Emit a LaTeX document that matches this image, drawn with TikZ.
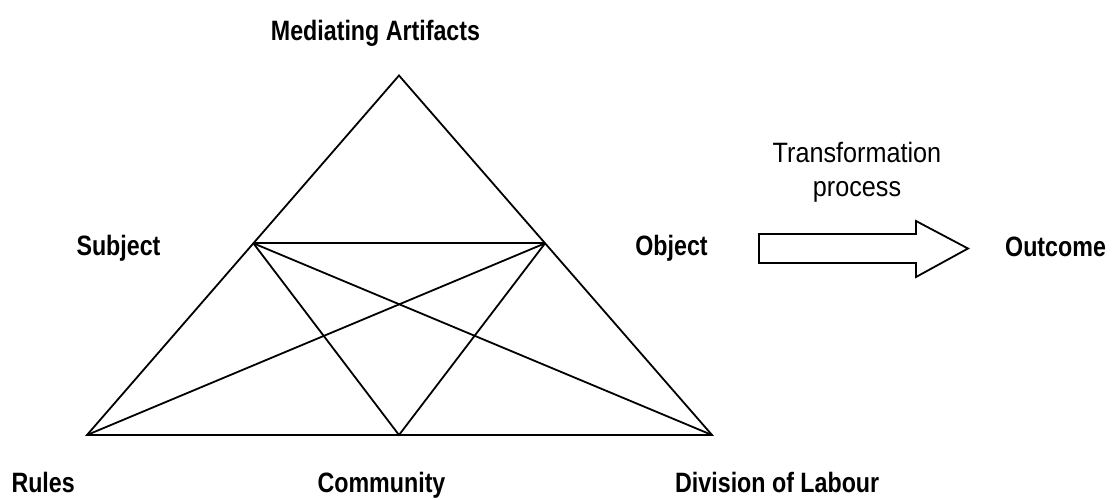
\documentclass[tikz,border=0pt]{standalone}
\usepackage{fontspec}
\usetikzlibrary{calc}
\newfontfamily\labelfont{Liberation Sans}[FakeStretch=0.83]
\newfontfamily\notefont{Liberation Sans}[FakeStretch=0.9]
\begin{document}
\begin{tikzpicture}[x=1pt,y=-1pt,
  edge/.style={line width=1.8pt,line join=miter},
  lbl/.style={inner sep=0pt,font=\labelfont\bfseries\fontsize{28}{34}\selectfont},
  note/.style={inner sep=0pt,align=center,font=\notefont\fontsize{28}{34}\selectfont}]
\useasboundingbox (0,0) rectangle (1113,499);

% corners of the activity triangle
\coordinate (A) at (399,75.5);
\coordinate (BL) at (87,435);
\coordinate (BM) at (399,435);
\coordinate (BR) at (712,435);
\coordinate (L) at ($(A)!0.4667!(BL)$);
\coordinate (R) at ($(A)!0.4667!(BR)$);

% outer triangle and inner connections
\draw[edge] (A) -- (BL) -- (BR) -- cycle;
\draw[edge] (L) -- (R);
\draw[edge] (L) -- (BM) -- (R);
\draw[edge] (L) -- (BR);
\draw[edge] (R) -- (BL);

% block arrow for the transformation
\coordinate (s1) at (759,234);
\coordinate (s2) at (916,234);
\coordinate (h1) at (916,221);
\coordinate (tip) at (968,248.5);
\coordinate (h2) at (916,277);
\coordinate (s3) at (916,263);
\coordinate (s4) at (759,263);
\draw[edge] (s1) -- (s2) -- (h1) -- (tip) -- (h2) -- (s3) -- (s4) -- cycle;

% labels
\node[lbl,anchor=base] (med) at (375.5,40) {Mediating Artifacts};
\node[lbl,anchor=base] (subj) at (118.5,255) {Subject};
\node[lbl,anchor=base] (obj) at (671.5,255) {Object};
\node[lbl,anchor=base west] (out) at (1005,256) {Outcome};
\node[lbl,anchor=base east] (rules) at (75,492) {Rules};
\node[lbl,anchor=base] (comm) at (381.5,492) {Community};
\node[lbl,anchor=base west] (div) at (675,492) {Division of Labour};
\node[note,anchor=south] (trans) at (857,203) {Transformation\\process};
\end{tikzpicture}
\end{document}
